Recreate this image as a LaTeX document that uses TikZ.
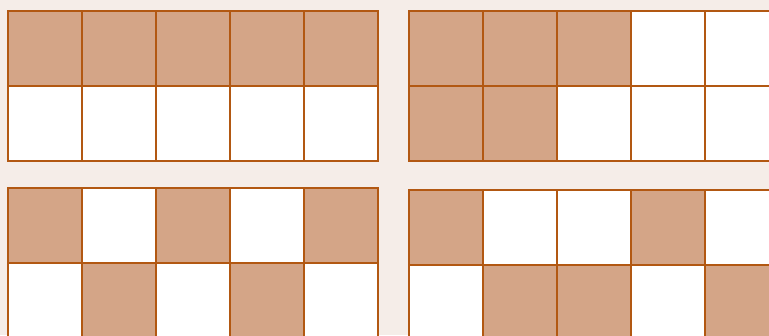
\documentclass[tikz,border=0pt]{standalone}
\usepackage{tikz}
\definecolor{paper}{RGB}{245,237,232}
\definecolor{clay}{RGB}{212,165,135}
\definecolor{rust}{RGB}{178,88,18}

\begin{document}
\begin{tikzpicture}[
  x=1pt, y=-1pt,
  cell/.style={draw=rust, line width=1.1pt, fill=white, inner sep=0pt, outer sep=0pt,
               minimum width=74pt, minimum height=75pt, anchor=center},
  full/.style={cell, fill=clay}
]
  % Background
  \fill[paper] (0,0) rectangle (769,335);
  \useasboundingbox (0,0) rectangle (769,335);
  % Grids
  \foreach \g/\ox/\oy in {tl/8/11, tr/409/11, bl/8/188, br/409/190}
    \foreach \r in {1,2}
      \foreach \c in {1,...,5}
        \node[cell] (\g-\r-\c) at (\ox+74*\c-37, \oy+75*\r-37.5) {};
  % Shaded cells
  \foreach \n in {tl-1-1,tl-1-2,tl-1-3,tl-1-4,tl-1-5,
                  tr-1-1,tr-1-2,tr-1-3,tr-2-1,tr-2-2,
                  bl-1-1,bl-1-3,bl-1-5,bl-2-2,bl-2-4,
                  br-1-1,br-1-4,br-2-2,br-2-3,br-2-5}
    \node[full] (\n-f) at (\n) {};
\end{tikzpicture}
\end{document}
